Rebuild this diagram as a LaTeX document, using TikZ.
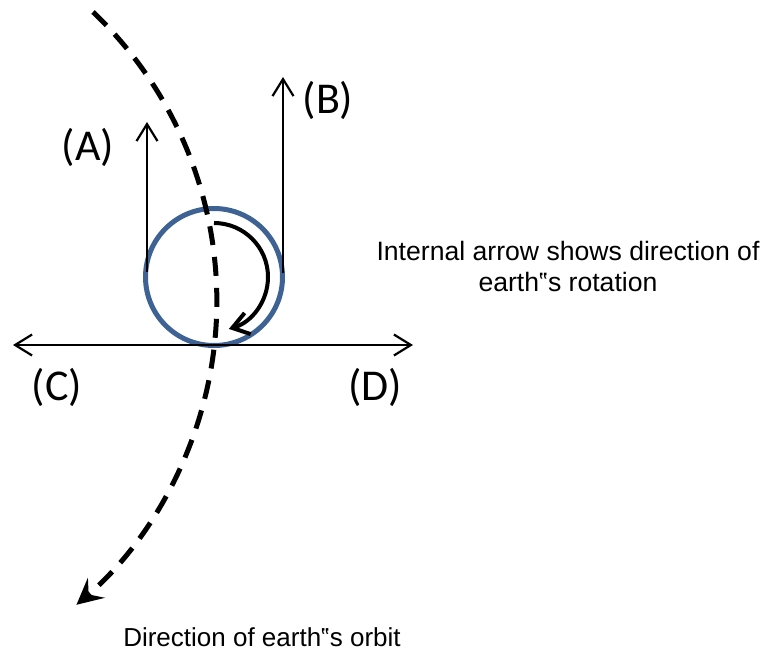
\documentclass[tikz,border=0pt]{standalone}
\usepackage{fontspec}
\setmainfont{Liberation Sans}
\newfontfamily\lblfont{Carlito}
\usetikzlibrary{arrows.meta}
\definecolor{earthblue}{RGB}{62,98,148}
\begin{document}
\begin{tikzpicture}[x=1pt,y=-1pt,
  thinarrow/.style={line width=2.2pt,-{Straight Barb[length=17pt,width=21pt]}},
  botharrow/.style={line width=2.2pt,{Straight Barb[length=17pt,width=21pt]}-{Straight Barb[length=17pt,width=21pt]}},
  earth/.style={draw=earthblue,line width=5pt},
  orbit/.style={line width=5pt,dash pattern=on 19pt off 12pt,-{Stealth[length=26pt,width=26pt,inset=10pt]}},
  rot/.style={line width=4pt,-{Straight Barb[length=16pt,width=22pt]}},
  lbl/.style={font=\lblfont\fontsize{44}{50}\selectfont,inner sep=0pt},
  note/.style={font=\fontsize{26.6}{31}\selectfont,align=center,inner sep=0pt}]
\useasboundingbox (0,0) rectangle (770,652);
\coordinate (c) at (214,277);
\draw[earth] (c) circle[radius=68.5];
% orbit
\coordinate (o1) at (93,12);
\draw[orbit] (o1) arc[start angle=-46.4,end angle=49.6,radius=399];
% rotation arrow
\coordinate (r1) at (214,223);
\draw[rot] (r1) arc[start angle=-90,end angle=74,radius=54];
% vertical arrows
\coordinate (a0) at (147,272);
\coordinate (a1) at (147,122);
\coordinate (b0) at (283,273);
\coordinate (b1) at (283,77);
\draw[thinarrow] (a0) -- (a1);
\draw[thinarrow] (b0) -- (b1);
% horizontal line
\coordinate (cL) at (13,345);
\coordinate (dR) at (413,345);
\draw[botharrow] (cL) -- (dR);
% labels
\node[lbl] (A) at (88,147) {(A)};
\node[lbl] (B) at (328,100) {(B)};
\node[lbl] (C) at (57,387) {(C)};
\node[lbl] (D) at (375,387) {(D)};
\node[note] (t1) at (568,266) {Internal arrow shows direction of\\earth‟s rotation};
\node[note,font=\fontsize{26}{31}\selectfont] (t2) at (262,637) {Direction of earth‟s orbit};
\end{tikzpicture}
\end{document}
